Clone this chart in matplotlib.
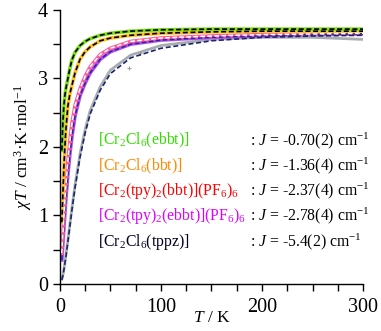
import numpy as np
import matplotlib
matplotlib.use("Agg")
import matplotlib.pyplot as plt

plt.rcParams["font.family"] = ["Liberation Serif", "DejaVu Serif"]
plt.rcParams["mathtext.fontset"] = "custom"
plt.rcParams["mathtext.rm"] = "Liberation Serif"
plt.rcParams["mathtext.it"] = "Liberation Serif:italic"

# ---------------------------------------------------------------------------
# Data (T in K, chiT in cm3 K mol-1)
# ---------------------------------------------------------------------------
T = [2, 3, 4, 5, 6, 8, 10, 12, 15, 20, 25, 30, 40, 50, 70, 100, 150, 200, 250, 300]

chiT_ebbt = [1.95, 2.35, 2.60, 2.75, 2.85, 3.00, 3.15, 3.27, 3.38, 3.48, 3.54, 3.58,
             3.63, 3.66, 3.69, 3.71, 3.72, 3.72, 3.72, 3.72]
chiT_bbt = [0.90, 1.30, 1.70, 2.00, 2.25, 2.60, 2.78, 2.90, 3.08, 3.28, 3.39, 3.46,
            3.55, 3.59, 3.63, 3.66, 3.68, 3.69, 3.69, 3.69]
chiT_tpy_bbt = [0.45, 0.70, 0.95, 1.20, 1.42, 1.80, 2.10, 2.35, 2.60, 2.85, 3.03, 3.17,
                3.35, 3.44, 3.54, 3.59, 3.62, 3.64, 3.65, 3.66]
chiT_tpy_ebbt = [0.35, 0.58, 0.80, 1.02, 1.24, 1.60, 1.90, 2.15, 2.45, 2.75, 2.93, 3.08,
                 3.28, 3.39, 3.50, 3.56, 3.60, 3.62, 3.64, 3.65]
chiT_tppz_fit = [0.06, 0.12, 0.20, 0.30, 0.40, 0.62, 0.85, 1.08, 1.40, 1.85, 2.20, 2.48,
                 2.83, 3.07, 3.30, 3.44, 3.55, 3.60, 3.62, 3.63]
chiT_tppz_exp = [0.07, 0.13, 0.21, 0.31, 0.42, 0.64, 0.88, 1.11, 1.44, 1.90, 2.25, 2.53,
                 2.88, 3.12, 3.34, 3.48, 3.57, 3.60, 3.60, 3.57]
outlier_T = [68, 79]
outlier_chiT = [3.15, 3.37]

labels = [r"[Cr$_2$Cl$_6$(ebbt)]", r"[Cr$_2$Cl$_6$(bbt)]",
          r"[Cr$_2$(tpy)$_2$(bbt)](PF$_6$)$_6$", r"[Cr$_2$(tpy)$_2$(ebbt)](PF$_6$)$_6$",
          r"[Cr$_2$Cl$_6$(tppz)]"]
J_labels = [": $J$ = -0.70(2) cm$^{-1}$", ": $J$ = -1.36(4) cm$^{-1}$",
            ": $J$ = -2.37(4) cm$^{-1}$", ": $J$ = -2.78(4) cm$^{-1}$",
            ": $J$ = -5.4(2) cm$^{-1}$"]
label_colors = ["#33dd00", "#ff8800", "#ff0000", "#dd00ff", "#000022"]

# ---------------------------------------------------------------------------
# Figure
# ---------------------------------------------------------------------------
fig = plt.figure(figsize=(3.81, 3.31), dpi=100)
ax = fig.add_axes([0.157, 0.142, 0.796, 0.828])

# experimental data (thick coloured lines) + fits (dashed)
ax.plot(T, chiT_tppz_exp, color="#a8aeb0", lw=2.0, zorder=2)
ax.plot(outlier_T, outlier_chiT, "+", color="#a0a0a0", ms=3, mew=0.8, zorder=2)
ax.plot(T, chiT_tppz_fit, color="#1c2370", lw=1.2, ls=(0, (3, 1.6)), zorder=3)

ax.plot(T, chiT_tpy_ebbt, color="#b04cf0", lw=2.6, zorder=2)
ax.plot(T, chiT_tpy_ebbt, color="#2a2a9a", lw=1.1, ls=(0, (3, 1.6)), zorder=3)

ax.plot(T, chiT_tpy_bbt, color="#ff5a9a", lw=2.6, zorder=2)
ax.plot(T, chiT_tpy_bbt, color="white", lw=1.1, ls=(0, (3, 1.6)), zorder=3)

ax.plot(T, chiT_bbt, color="#ffc028", lw=2.6, zorder=2)
ax.plot(T, chiT_bbt, color="black", lw=1.2, ls=(0, (3, 1.6)), zorder=3)

ax.plot(T, chiT_ebbt, color="#7be01c", lw=2.6, zorder=2)
ax.plot(T, chiT_ebbt, color="black", lw=1.2, ls=(0, (3, 1.6)), zorder=3)

label_y = [2.09, 1.72, 1.36, 0.99, 0.61]
for lab, jl, c, y in zip(labels, J_labels, label_colors, label_y):
    ax.text(38, y, lab, color=c, fontsize=11.3, va="center", ha="left")
    ax.text(188, y, jl, color="black", fontsize=11.3, va="center", ha="left")

ax.set_xlim(0, 300)
ax.set_ylim(0, 4)
ax.set_xticks([0, 100, 200, 300])
ax.set_xticks(np.arange(0, 301, 25), minor=True)
ax.set_yticks([0, 1, 2, 3, 4])
ax.set_yticks(np.arange(0, 4.01, 0.5), minor=True)
ax.tick_params(which="both", direction="out", length=5, width=1.0, labelsize=14.5)
ax.tick_params(axis="x", pad=5)
for s in ["top", "right"]:
    ax.spines[s].set_visible(False)
for s in ["left", "bottom"]:
    ax.spines[s].set_linewidth(1.0)

ax.set_xlabel("$T$ / K", fontsize=12.5, labelpad=-5)
ax.set_ylabel(r"$\chi T$ / cm$^3$·K·mol$^{-1}$", fontsize=12.5, labelpad=3)

fig.savefig("out.png", dpi=100)
